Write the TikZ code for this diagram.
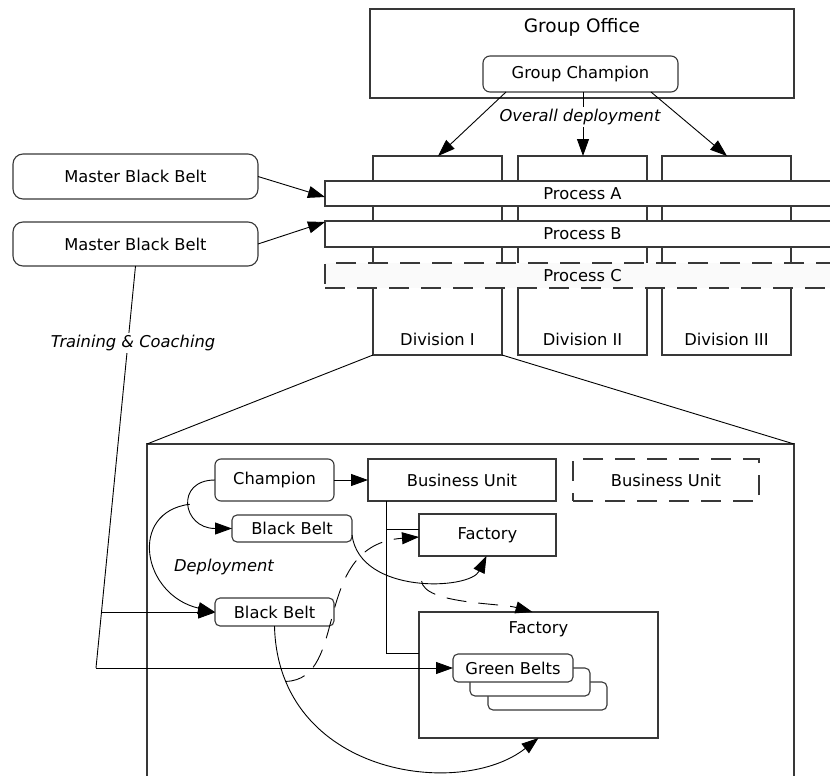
\documentclass[tikz,border=0pt]{standalone}
\usepackage{fontspec}
\setmainfont{DejaVu Sans}
\usetikzlibrary{arrows.meta,calc}
\begin{document}
\begin{tikzpicture}[x=1pt,y=-1pt,font=\fontsize{16.3}{19}\selectfont]
\tikzset{
 bx/.style={draw=black!78, line width=1.1pt, fill=white, inner sep=0pt, outer sep=0pt},
 rbx/.style={bx, rounded corners=6pt},
 cn/.style={line width=0.9pt, draw=black},
 ar/.style={cn, -{Triangle[length=17pt,width=12pt]}},
 dsh/.style={dash pattern=on 20pt off 12pt},
 lb/.style={font=\fontsize{16.3}{19}\selectfont\itshape, fill=white, inner sep=2pt},
 tx/.style={inner sep=0pt},
}
\clip (0,0) rectangle (830,776);
\fill[white] (0,0) rectangle (830,776);

% Group office
\node[bx, minimum width=424pt, minimum height=89pt] (go) at (582,53.5) {};
\node[tx, font=\fontsize{18.5}{22}\selectfont] (got) at (582,27) {Group Office};
\node[rbx, rounded corners=7pt, minimum width=195pt, minimum height=36pt] (gc) at (580.5,74) {Group Champion};

% Divisions
\foreach \n/\x/\t in {div1/437.5/Division I, div2/582.5/Division II, div3/726.5/Division III}{
  \node[bx, minimum width=129pt, minimum height=199pt] (\n) at (\x,255.5) {};
  \node[tx] (\n-l) at (\x,339) {\t};
}

% Processes
\node[bx, minimum width=515pt, minimum height=25pt] (pa) at (582.5,193.5) {Process A};
\node[bx, minimum width=515pt, minimum height=26pt] (pb) at (582.5,234) {Process B};
\node[bx, dsh, fill=black!2, minimum width=515pt, minimum height=25pt] (pc) at (582.5,275.5) {Process C};

% Master black belts
\node[rbx, rounded corners=10pt, minimum width=245pt, minimum height=45pt] (mbb1) at (135.5,176.5) {Master Black Belt};
\node[rbx, rounded corners=10pt, minimum width=245pt, minimum height=44pt] (mbb2) at (135.5,244) {Master Black Belt};

% overall deployment arrows
\draw[ar] ($(gc.south)+(-74.5,0)$) -- ($(div1.north)+(0.5,0)$);
\draw[ar] ($(gc.south)+(2.5,0)$) -- ($(div2.north)+(0.5,0)$);
\draw[ar] ($(gc.south)+(70.5,0)$) -- ($(div3.north)+(0.5,0)$);
\node[lb] (od) at (580,117) {Overall deployment};

\draw[ar] (mbb1.east) -- ($(pa.west)+(0,3.5)$);
\draw[ar] (mbb2.east) -- ($(pb.north west)+(0,1)$);

% big zoom box
\coordinate (bl) at (147,444);
\coordinate (br) at (794,444);
\draw[draw=black!78, line width=1.1pt] (147,790) -- (bl) -- (br) -- (794,790);
\draw[cn] (div1.south west) -- (bl);
\draw[cn] (div1.south east) -- (br);

% inside
\node[rbx, minimum width=119pt, minimum height=42pt] (champ) at (274.5,480) {Champion};
\node[bx, minimum width=188pt, minimum height=42pt] (bu) at (462,480) {Business Unit};
\node[bx, dsh, minimum width=186pt, minimum height=42pt] (bu2) at (666,480) {Business Unit};
\node[rbx, rounded corners=5pt, minimum width=120pt, minimum height=27pt] (bb1) at (292,528.5) {Black Belt};
\node[bx, minimum width=137pt, minimum height=42pt] (f1) at (487.5,535) {Factory};
\node[rbx, rounded corners=5pt, minimum width=119pt, minimum height=28pt] (bb2) at (274.5,612) {Black Belt};
\node[bx, minimum width=239pt, minimum height=126pt] (f2) at (538.5,675) {};
\node[tx] (f2l) at (538.5,629) {Factory};
\node[rbx, rounded corners=5pt, minimum width=119pt, minimum height=28pt] (gb3) at (547.5,696) {};
\node[rbx, rounded corners=5pt, minimum width=120pt, minimum height=28pt] (gb2) at (530,682) {};
\node[rbx, rounded corners=5pt, minimum width=120pt, minimum height=28pt] (gb1) at (513,668) {Green Belts};

% training & coaching
\coordinate (tc) at (96,668);
\draw[cn] (mbb2.south) -- (tc);
\path (mbb2.south) -- (tc) coordinate[pos=0.862] (tb);
\draw[ar] (tc) -- (gb1.west);
\draw[ar] (tb) -- (tb -| bb2.west);
\node[lb] (tcl) at (133,343) {Training \& Coaching};

% business unit links
\draw[ar] (champ.east) -- (bu.west);
\coordinate (bv) at ($(bu.south west)+(18,0)$);
\coordinate (bf2) at ($(f2.north west)+(0,41)$);
\coordinate (bf1) at ($(f1.west)+(0,-6)$);
\draw[cn] (bv) |- (bf2);
\draw[cn] (bf1) -- (bf1 -| bv);

% deployment curves
\draw[ar] (champ.west) .. controls +(-40,0) and +(-50,0) .. coordinate[pos=0.5] (cb) (bb1.west);
\draw[ar] (cb) .. controls (128,512) and (142,595) .. (bb2.west);
\node[tx, font=\fontsize{16.3}{19}\selectfont\itshape] (dep) at (224,567) {Deployment};

\draw[ar] ($(bb1.east)+(0,6.5)$) .. controls (360,595) and (470,590) .. coordinate[pos=0.53] (db1) ($(f1.south)+(-1,0)$);
\draw[ar, dsh] (db1) .. controls (424,604) and (500,603) .. ($(f2.north)+(-6,0)$);

\draw[ar] (bb2.south) .. controls (278,775) and (460,800) .. coordinate[pos=0.14] (db2) (f2.south);
\draw[ar, dsh] (db2) .. controls (350,680) and (310,545) .. ($(f1.west)+(0,2)$);
\end{tikzpicture}
\end{document}
